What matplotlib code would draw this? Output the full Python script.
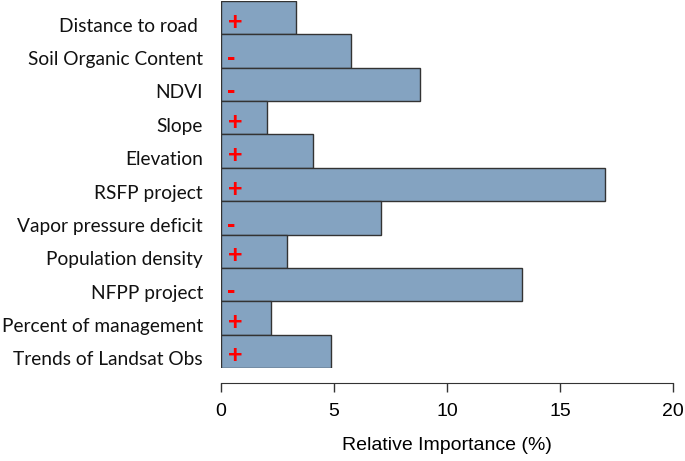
import matplotlib.pyplot as plt
import matplotlib.transforms as mtransforms

plt.rcParams["font.family"] = ["Liberation Sans", "DejaVu Sans"]

# variables, top to bottom as in the figure
variables = ["Distance to road ", "Soil Organic Content", "NDVI", "Slope",
             "Elevation", "RSFP project", "Vapor pressure deficit",
             "Population density", "NFPP project", "Percent of management",
             "Trends of Landsat Obs"]
importance = [3.32, 5.74, 8.80, 2.05, 4.05, 17.0, 7.09, 2.90, 13.32, 2.22, 4.86]
signs = ["+", "-", "-", "+", "+", "+", "-", "+", "-", "+", "+"]

xticks = [0, 5, 10, 15, 20]

fig = plt.figure(figsize=(6.85, 4.61), dpi=100)
ax = fig.add_axes([221 / 685, 1 - 368 / 461, (673.3 - 221) / 685, 367 / 461])

n = len(variables)
ypos = list(range(n - 1, -1, -1))

ax.barh(ypos, importance, height=1.0, color="#84a3c1", edgecolor="#333333",
        linewidth=1.0)

# red signs inside the bars
for y, s in zip(ypos, signs):
    if s == "+":
        ax.text(0.65, y - 0.15, s, color="red", fontsize=18,
                fontweight="bold", ha="center", va="center")
    else:
        ax.text(0.45, y - 0.2, s, color="red", fontsize=18,
                fontweight="bold", ha="center", va="center")

ax.set_xlim(0, 20)
ax.set_ylim(-0.5, n - 0.5)

ax.set_yticks(ypos)
ax.set_yticklabels(variables)
ax.tick_params(axis="y", length=0, pad=13)
offset = mtransforms.ScaledTranslation(0, -7 / 100, fig.dpi_scale_trans)
for lab in ax.get_yticklabels():
    lab.set_family("Lato")
    lab.set_fontsize(13.8)
    lab.set_color("#111111")
    lab.set_transform(lab.get_transform() + offset)

ax.set_xticks(xticks)
ax.set_xticklabels([str(t) for t in xticks])
ax.tick_params(axis="x", length=6.5, width=1, color="#333333", pad=8,
               labelsize=14)

for side in ["left", "right", "top"]:
    ax.spines[side].set_visible(False)
ax.spines["bottom"].set_position(("outward", 10.8))
ax.spines["bottom"].set_bounds(0, 20)
ax.spines["bottom"].set_color("#333333")

ax.set_xlabel("Relative Importance (%)", fontsize=14, labelpad=12)

fig.savefig("out.png", dpi=100)
